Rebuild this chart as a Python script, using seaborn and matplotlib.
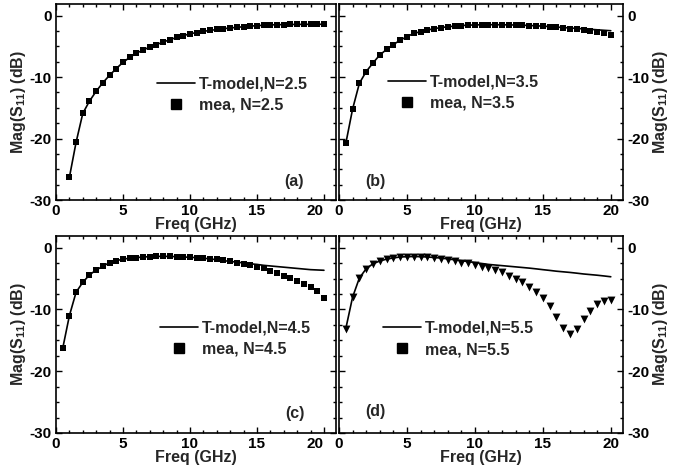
import numpy as np
import pandas as pd
import matplotlib
matplotlib.use("Agg")
import matplotlib.pyplot as plt
import seaborn as sns
from matplotlib.lines import Line2D
from matplotlib.ticker import MultipleLocator

sns.set_theme(style="ticks")
plt.rcParams['font.family'] = ['Liberation Sans', 'DejaVu Sans']
plt.rcParams['font.weight'] = 'bold'
plt.rcParams['axes.labelweight'] = 'bold'
plt.rcParams['axes.unicode_minus'] = False
plt.rcParams['mathtext.fontset'] = 'custom'
plt.rcParams['mathtext.rm'] = 'Liberation Sans'
plt.rcParams['mathtext.default'] = 'rm'

# ---------------- data ----------------
freq_a = np.arange(1.0, 20.01, 0.5)
freq_bcd = np.arange(0.5, 20.01, 0.5)

mea_a = [-26.3, -20.6, -15.9, -13.9, -12.3, -10.9, -9.7, -8.6, -7.6,
         -6.8, -6.1, -5.6, -5.1, -4.7, -4.3, -3.9, -3.55, -3.25, -2.95,
         -2.75, -2.55, -2.4, -2.25, -2.12, -2.0, -1.9, -1.8, -1.7, -1.62,
         -1.56, -1.5, -1.47, -1.45, -1.43, -1.42, -1.41, -1.4, -1.4, -1.4]
model_a = list(mea_a)

mea_b = [-20.8, -15.2, -11.0, -9.1, -7.7, -6.4, -5.5, -4.7, -4.0, -3.4,
         -2.9, -2.6, -2.35, -2.1, -1.95, -1.8, -1.7, -1.6, -1.55, -1.5,
         -1.48, -1.47, -1.47, -1.48, -1.5, -1.52, -1.55, -1.6, -1.65, -1.7,
         -1.8, -1.9, -2.0, -2.1, -2.2, -2.35, -2.5, -2.65, -2.85, -3.1]
model_b = [-20.8, -15.2, -11.0, -9.1, -7.7, -6.4, -5.5, -4.7, -4.0, -3.4,
           -2.9, -2.6, -2.35, -2.1, -1.95, -1.8, -1.7, -1.6, -1.55, -1.5,
           -1.48, -1.47, -1.47, -1.48, -1.5, -1.52, -1.55, -1.6, -1.65, -1.7,
           -1.77, -1.85, -1.93, -2.0, -2.08, -2.15, -2.22, -2.3, -2.38, -2.45]

mea_c = [-16.3, -11.0, -7.2, -5.6, -4.4, -3.6, -3.0, -2.4, -2.1, -1.85,
         -1.7, -1.6, -1.5, -1.45, -1.4, -1.4, -1.4, -1.45, -1.5, -1.55,
         -1.6, -1.7, -1.8, -1.9, -2.05, -2.2, -2.4, -2.6, -2.8, -3.1,
         -3.35, -3.7, -4.05, -4.5, -4.9, -5.35, -5.85, -6.3, -7.0, -8.2]
model_c = [-16.3, -11.0, -7.2, -5.6, -4.4, -3.6, -3.0, -2.4, -2.1, -1.85,
           -1.7, -1.6, -1.5, -1.45, -1.4, -1.4, -1.4, -1.45, -1.5, -1.55,
           -1.6, -1.7, -1.8, -1.95, -2.1, -2.2, -2.35, -2.45, -2.6, -2.7,
           -2.85, -2.95, -3.05, -3.15, -3.25, -3.35, -3.45, -3.55, -3.6, -3.65]

mea_d = [-13.1, -8.0, -4.9, -3.4, -2.65, -2.2, -1.9, -1.7, -1.55, -1.5,
         -1.45, -1.5, -1.55, -1.65, -1.75, -1.95, -2.2, -2.4, -2.55, -2.8,
         -3.05, -3.3, -3.6, -4.0, -4.5, -5.1, -5.6, -6.3, -7.1, -8.1,
         -9.5, -11.2, -13.0, -13.9, -13.2, -11.6, -10.2, -9.15, -8.6, -8.45]
model_d = [-13.1, -8.0, -4.9, -3.4, -2.6, -2.15, -1.85, -1.65, -1.5, -1.45,
           -1.42, -1.45, -1.5, -1.58, -1.68, -1.8, -1.95, -2.1, -2.25, -2.4,
           -2.55, -2.7, -2.8, -2.9, -3.0, -3.1, -3.2, -3.3, -3.42, -3.55,
           -3.67, -3.8, -3.9, -4.0, -4.12, -4.25, -4.35, -4.45, -4.57, -4.7]

panel_tags = ['(a)', '(b)', '(c)', '(d)']
model_labels = ['T-model,N=2.5', 'T-model,N=3.5', 'T-model,N=4.5', 'T-model,N=5.5']
mea_labels = ['mea, N=2.5', 'mea, N=3.5', 'mea, N=4.5', 'mea, N=5.5']
xticks = [0, 5, 10, 15, 20]
yticks = [-30, -20, -10, 0]

# ---------------- figure ----------------
W, H = 695, 472
fig = plt.figure(figsize=(W / 100, H / 100), dpi=100)

def px_axes(l, r, t, b):
    return fig.add_axes([l / W, (H - b) / H, (r - l) / W, (b - t) / H])

axes = [px_axes(56, 336, 4, 200), px_axes(339, 623, 4, 200),
        px_axes(56, 336, 236, 433), px_axes(339, 623, 236, 433)]

series = [(freq_a, model_a, freq_a, mea_a, 's'),
          (freq_bcd, model_b, freq_bcd, mea_b, 's'),
          (freq_bcd, model_c, freq_bcd, mea_c, 's'),
          (freq_bcd, model_d, freq_bcd, mea_d, 'v')]

tag_pos = [(17.8, -27.0), (2.7, -27.0), (17.8, -26.8), (2.7, -26.5)]
leg_pos = [(0.36, 0.538), (0.1725, 0.548), (0.371, 0.48), (0.155, 0.477)]

for i, ax in enumerate(axes):
    fx, my, mx, ey, mk = series[i]
    dfl = pd.DataFrame({'f': fx, 'v': my})
    dfm = pd.DataFrame({'f': mx, 'v': ey})
    sns.lineplot(data=dfl, x='f', y='v', ax=ax, color='black', lw=1.2,
                 legend=False, zorder=2)
    sns.scatterplot(data=dfm, x='f', y='v', ax=ax, marker=mk,
                    s=18 if mk == 's' else 32, color='black',
                    edgecolor='black', linewidth=0, legend=False, zorder=3)
    ax.set_xlim(0, 20.9)
    ax.set_ylim(-30, 1.9)
    ax.set_xticks(xticks)
    ax.set_yticks(yticks)
    ax.xaxis.set_minor_locator(MultipleLocator(1))
    ax.yaxis.set_minor_locator(MultipleLocator(2.5))
    ax.tick_params(which='both', direction='in', top=True, right=True,
                   left=True, bottom=True, width=1.0, colors='black',
                   labelsize=11, pad=3)
    ax.tick_params(which='major', length=4.5)
    ax.tick_params(which='minor', length=2.5)
    for lab in ax.get_xticklabels() + ax.get_yticklabels():
        lab.set_fontweight('bold')
    if i in (0, 2):
        ax.get_xticklabels()[-1].set_horizontalalignment('right')
    for sp in ax.spines.values():
        sp.set_linewidth(1.2)
        sp.set_color('black')
    ax.set_xlabel('Freq (GHz)', fontsize=11.5, fontweight='bold', labelpad=-1)
    ax.set_ylabel(r'Mag(S$_{11}$) (dB)', fontsize=11.5, fontweight='bold',
                  labelpad=1)
    if i in (1, 3):
        ax.tick_params(labelleft=False, labelright=True)
        ax.yaxis.set_label_position('right')
    ax.text(tag_pos[i][0], tag_pos[i][1], panel_tags[i], fontsize=11.5,
            fontweight='bold', ha='center', va='center')
    handles = [Line2D([], [], color='black', lw=1.2),
               Line2D([], [], color='black', marker='s', ls='none',
                      markersize=7.5)]
    ax.legend(handles, [model_labels[i], mea_labels[i]], loc='center left',
              bbox_to_anchor=leg_pos[i], frameon=False, borderpad=0,
              borderaxespad=0, handlelength=2.4, handletextpad=0.25,
              labelspacing=0.38, prop={'size': 11.5, 'weight': 'bold'})
    ax.set_facecolor('white')

fig.savefig('out.png', dpi=100, facecolor='white')
